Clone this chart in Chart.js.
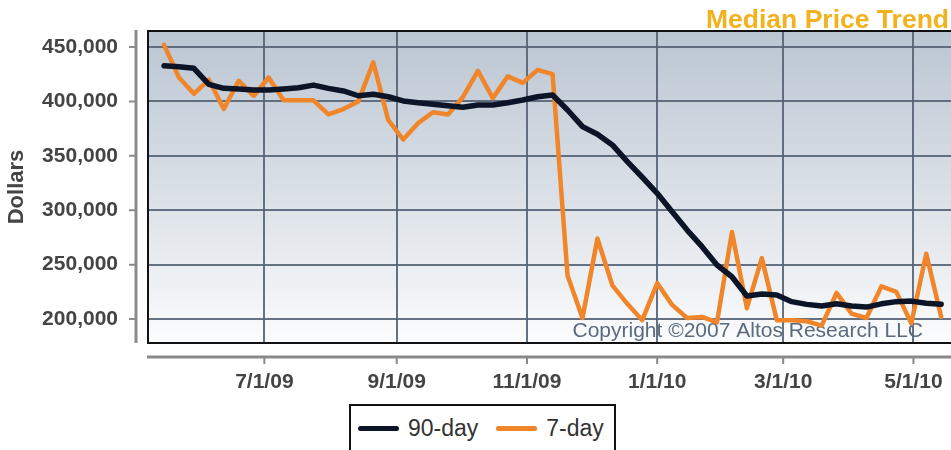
<!DOCTYPE html>
<html>
<head>
<meta charset="utf-8">
<script src="https://cdn.jsdelivr.net/npm/chart.js@4.4.1/dist/chart.umd.min.js"></script>
<style>
html, body { margin: 0; padding: 0; background: #fff; }
#wrap { position: relative; width: 951px; height: 450px; overflow: hidden; }
#legend { position: absolute; left: 349px; top: 404px; width: 263px; height: 60px; border: 2px solid #111; background: #fff; box-sizing: content-box; }
#legend .items { display: flex; align-items: center; padding: 9px 0 0 7px; font: 23px "Liberation Sans", Arial, sans-serif; color: #333; line-height: 26px; white-space: nowrap; }
#legend .item { display: flex; align-items: center; margin-right: 18px; flex-shrink: 0; }
#legend .swatch { width: 41px; height: 5px; border-radius: 3px; margin-right: 9px; flex-shrink: 0; }
</style>
</head>
<body>
<div id="wrap">
  <canvas id="chart" width="951" height="450"></canvas>
  <div id="legend"><div class="items"></div></div>
</div>
<script>
const weekDates = [
  "2009-05-15", "2009-05-22", "2009-05-29", "2009-06-05", "2009-06-12", "2009-06-19", "2009-06-26",
  "2009-07-03", "2009-07-10", "2009-07-17", "2009-07-24", "2009-07-31", "2009-08-07", "2009-08-14",
  "2009-08-21", "2009-08-28", "2009-09-04", "2009-09-11", "2009-09-18", "2009-09-25", "2009-10-02",
  "2009-10-09", "2009-10-16", "2009-10-23", "2009-10-30", "2009-11-06", "2009-11-13", "2009-11-20",
  "2009-11-27", "2009-12-04", "2009-12-11", "2009-12-18", "2009-12-25", "2010-01-01", "2010-01-08",
  "2010-01-15", "2010-01-22", "2010-01-29", "2010-02-05", "2010-02-12", "2010-02-19", "2010-02-26",
  "2010-03-05", "2010-03-12", "2010-03-19", "2010-03-26", "2010-04-02", "2010-04-09", "2010-04-16",
  "2010-04-23", "2010-04-30", "2010-05-07", "2010-05-14"
];
const ninetyDay = [
  432800, 431900, 430400, 415700, 412000, 411400, 410500, 410500, 411400, 412600,
  415000, 412000, 409600, 405200, 406500, 404300, 400400, 398800, 397300, 396000,
  394600, 396700, 396700, 398800, 401300, 404300, 405900, 392100, 376800, 369800,
  360000, 344600, 330300, 315600, 298600, 281800, 266500, 249700, 238900, 221200,
  223000, 222100, 216000, 213500, 212000, 214000, 212000, 211000, 214000, 216000,
  216500, 214500, 213500
];
const sevenDay = [
  452000, 422000, 407000, 420000, 393000, 419000, 405000, 422000, 401000, 401000,
  401000, 388000, 393000, 400000, 436000, 383000, 365000, 380000, 390000, 388000,
  404000, 428000, 403000, 423000, 417000, 429000, 425000, 240000, 201000, 274000,
  231000, 214000, 199000, 233000, 213000, 201000, 202000, 197000, 280000, 210000,
  256000, 199000, 199000, 198000, 194000, 224000, 205000, 201000, 230000, 225000,
  196000, 260000, 202000
];
const tickDates = ["2009-07-01", "2009-09-01", "2009-11-01", "2010-01-01", "2010-03-01", "2010-05-01"];
const tickLabels = ["7/1/09", "9/1/09", "11/1/09", "1/1/10", "3/1/10", "5/1/10"];
const yTicks = [200000, 250000, 300000, 350000, 400000, 450000];
const seriesNames = ["90-day", "7-day"];
const seriesColors = ["#0c1428", "#f0852a"];

const FONT = '"Liberation Sans", Arial, sans-serif';
const GRID = "rgba(84, 99, 117, 0.9)";
const dayNum = (s) => {
  const [y, m, d] = s.split("-").map(Number);
  return Date.UTC(y, m - 1, d) / 86400000;
};
const points = (values) => weekDates.map((d, i) => ({ x: dayNum(d), y: values[i] }));
const noPadding = (s) => {
  s.paddingTop = 0;
  s.paddingBottom = 0;
  s.paddingLeft = 0;
  s.paddingRight = 0;
};

const decor = {
  id: "decor",
  beforeDraw(chart) {
    const { ctx, chartArea: a } = chart;
    const g = ctx.createLinearGradient(0, a.top, 0, a.bottom);
    g.addColorStop(0, "#bbc6d3");
    g.addColorStop(0.5, "#d9dfe6");
    g.addColorStop(1, "#fbfcfd");
    ctx.save();
    ctx.fillStyle = g;
    ctx.fillRect(a.left, a.top, a.right - a.left, a.bottom - a.top);
    ctx.restore();
  },
  beforeDatasetsDraw(chart) {
    const { ctx, chartArea: a } = chart;
    ctx.save();
    ctx.font = `21px ${FONT}`;
    ctx.fillStyle = "#5a6a7f";
    ctx.textAlign = "right";
    ctx.textBaseline = "alphabetic";
    ctx.fillText("Copyright \u00a92007 Altos Research LLC", 923, 337);
    ctx.strokeStyle = "#111";
    ctx.lineWidth = 2;
    ctx.beginPath();
    ctx.moveTo(a.right, a.top);
    ctx.lineTo(a.left, a.top);
    ctx.lineTo(a.left, a.bottom);
    ctx.lineTo(a.right, a.bottom);
    ctx.stroke();
    ctx.restore();
  },
  afterDraw(chart) {
    const { ctx, chartArea: a, scales } = chart;
    ctx.save();
    ctx.strokeStyle = "#8a8a8a";
    ctx.lineWidth = 3;
    ctx.beginPath();
    ctx.moveTo(136, a.top - 1);
    ctx.lineTo(136, a.bottom);
    ctx.moveTo(a.left - 1, a.bottom + 14);
    ctx.lineTo(chart.width, a.bottom + 14);
    ctx.stroke();
    ctx.lineWidth = 2;
    ctx.beginPath();
    scales.y.ticks.forEach((t) => {
      const y = scales.y.getPixelForValue(t.value);
      ctx.moveTo(129, y);
      ctx.lineTo(136, y);
    });
    scales.x.ticks.forEach((t) => {
      const x = scales.x.getPixelForValue(t.value);
      ctx.moveTo(x, a.bottom + 14);
      ctx.lineTo(x, a.bottom + 21);
    });
    ctx.stroke();
    ctx.font = `bold 26.5px ${FONT}`;
    ctx.fillStyle = "#f1b21d";
    ctx.textAlign = "right";
    ctx.fillText("Median Price Trend", 949, 28);
    ctx.restore();
  }
};

const chart = new Chart(document.getElementById("chart"), {
  type: "line",
  data: {
    datasets: [
      { label: seriesNames[0], data: points(ninetyDay), borderColor: seriesColors[0], borderWidth: 5.5 },
      { label: seriesNames[1], data: points(sevenDay), borderColor: seriesColors[1], borderWidth: 4.5 }
    ]
  },
  options: {
    responsive: false,
    animation: false,
    layout: { padding: { top: 31, left: 0, right: 0, bottom: 0 } },
    elements: {
      point: { radius: 0, hoverRadius: 0 },
      line: { tension: 0, borderJoinStyle: "round", borderCapStyle: "round", fill: false }
    },
    plugins: { legend: { display: false }, tooltip: { enabled: false } },
    scales: {
      x: {
        type: "linear",
        min: dayNum("2009-05-07") + 0.5,
        max: dayNum("2010-05-18") + 0.6,
        afterBuildTicks: (s) => { s.ticks = tickDates.map((d) => ({ value: dayNum(d) })); },
        afterFit: (s) => { s.height = 107; noPadding(s); },
        border: { display: false },
        grid: { color: GRID, lineWidth: 2, drawTicks: false },
        ticks: {
          autoSkip: false,
          maxRotation: 0,
          padding: 27,
          color: "#444",
          font: { family: FONT, size: 21, weight: "bold" },
          callback: (v, i) => tickLabels[i]
        }
      },
      y: {
        min: 178000,
        max: 464700,
        afterBuildTicks: (s) => { s.ticks = yTicks.map((v) => ({ value: v })); },
        afterFit: (s) => { s.width = 148; noPadding(s); },
        border: { display: false },
        grid: { color: GRID, lineWidth: 2, drawTicks: false },
        ticks: {
          padding: 30,
          color: "#444",
          font: { family: FONT, size: 21, weight: "bold" },
          callback: (v) => v.toLocaleString("en-US")
        },
        title: {
          display: true,
          text: "Dollars",
          color: "#444",
          font: { family: FONT, size: 22, weight: "bold" },
          padding: { top: 4, bottom: 0 }
        }
      }
    }
  },
  plugins: [decor]
});

document.querySelector("#legend .items").innerHTML = chart.data.datasets.map((ds) =>
  `<div class="item"><span class="swatch" style="background:${ds.borderColor}"></span><span>${ds.label}</span></div>`
).join("");
</script>
</body>
</html>
